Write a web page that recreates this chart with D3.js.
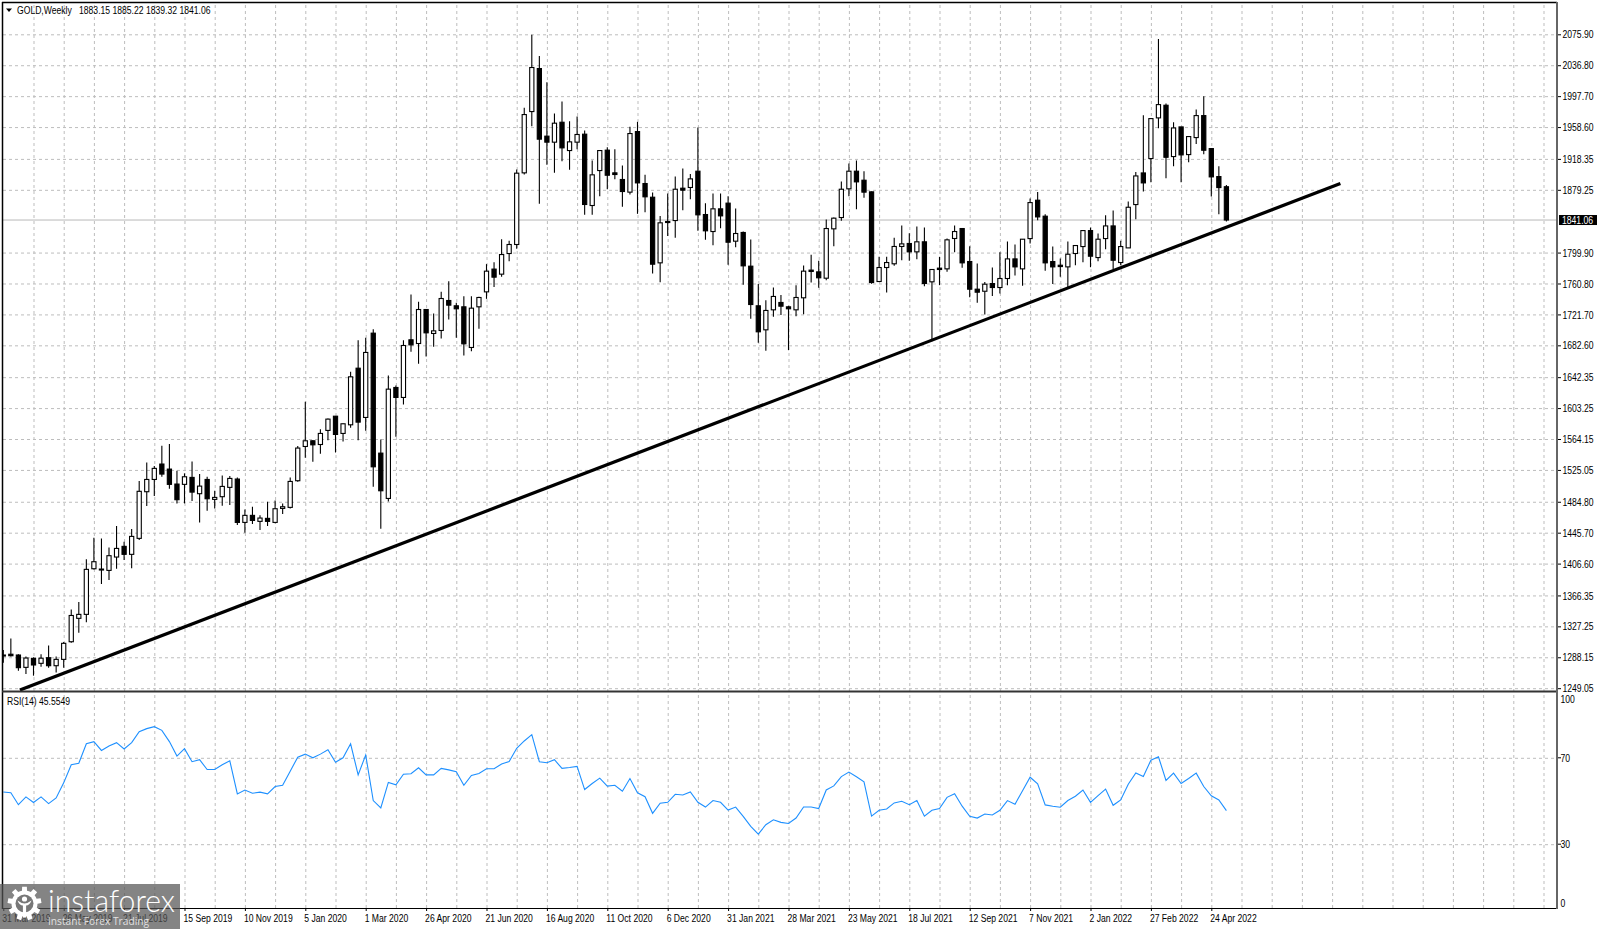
<!DOCTYPE html>
<html><head><meta charset="utf-8">
<script src="https://cdn.jsdelivr.net/npm/d3@7"></script>
<style>html,body{margin:0;padding:0;background:#fff}svg{display:block}text{font-family:"Liberation Sans",Arial,sans-serif;font-size:10px;fill:#000}</style>
</head><body>
<svg id="c" width="1600" height="929"></svg>
<script>
const priceTicks=[2075.90,2036.80,1997.70,1958.60,1918.35,1879.25,1799.90,1760.80,1721.70,1682.60,1642.35,1603.25,1564.15,1525.05,1484.80,1445.70,1406.60,1366.35,1327.25,1288.15,1249.05];
const timeLabels=["31 Mar 2019","26 May 2019","21 Jul 2019","15 Sep 2019","10 Nov 2019","5 Jan 2020","1 Mar 2020","26 Apr 2020","21 Jun 2020","16 Aug 2020","11 Oct 2020","6 Dec 2020","31 Jan 2021","28 Mar 2021","23 May 2021","18 Jul 2021","12 Sep 2021","7 Nov 2021","2 Jan 2022","27 Feb 2022","24 Apr 2022"];
const rsiTicks=[100,70,30,0];
const lastPrice=1841.06;
const trendBars=[2.2,177.1], trendPrices=[1246.7,1887.3];
const opens=[1289.7,1292,1291,1275.4,1286.8,1280.5,1287.6,1277.5,1285.5,1307.8,
1337.4,1342.4,1400.1,1399.7,1398,1414.9,1428.4,1418.3,1438.5,1497.5,
1513,1532.5,1526.1,1507.2,1506.8,1515.6,1495,1513,1487.8,1491.2,
1503,1513.5,1458.7,1467.6,1460,1463.8,1458.7,1476.4,1477.7,1511.4,
1554.7,1561.9,1557.2,1575,1593,1571.2,1582.1,1653.7,1591.4,1698,
1546.3,1489,1629.3,1616.7,1689.6,1684.9,1727.9,1697.6,1701.4,1739.3,
1732.6,1731.3,1679.9,1731.3,1750.2,1779,1772.6,1798.7,1810.1,1900.7,
1978.2,2032.6,1947.1,1939.5,1964.7,1928.9,1939.5,1949.6,1859.4,1903.6,
1929.4,1900.7,1892.3,1876.3,1952.9,1887.2,1869.9,1786.9,1839.2,1840.4,
1881.3,1882.2,1902.8,1848,1826.5,1855.2,1862.4,1814.3,1825.3,1782.7,
1732.6,1702.2,1727.5,1736.8,1731.3,1727.5,1742.7,1777.7,1775.5,1767.5,
1829.9,1844.2,1880.5,1902.8,1891.4,1876.7,1763.3,1781,1785.7,1807.6,
1811.4,1800.8,1813.5,1762.9,1780.2,1779.3,1817.7,1830.3,1788.6,1753.6,
1751,1760.7,1755.7,1767.1,1791.9,1779.3,1817.6,1866.1,1845.9,1788.5,
1783.9,1781.8,1798.7,1807.5,1827.7,1793.6,1817.6,1833.6,1787.3,1805.8,
1860.6,1900.6,1918.8,1970.2,1986.2,1921.3,1958.8,1923.8,1945.3,1973.1,
1931.4,1896,1883.15];
const highs=[1297.3,1312,1292,1289,1288,1292,1303.2,1289,1307.4,1348.7,
1358,1412,1439.3,1438.5,1427.1,1454,1434.3,1450.3,1511,1534.6,
1530,1555.6,1557.7,1524,1520.7,1535.8,1519.8,1516.4,1498.7,1518.1,
1517.3,1515.6,1475,1478.5,1467.6,1484.8,1486.5,1482.7,1515.6,1555.2,
1611.2,1562.7,1576.6,1590.1,1593,1583.8,1649.1,1689.1,1692.1,1703,
1563.6,1644.5,1631.8,1689.1,1746.9,1737.6,1727.9,1722.9,1750.3,1763.7,
1736.3,1744.8,1744.8,1743.9,1785.3,1787.8,1816.8,1814.7,1904.9,1982.9,
2075.2,2048.6,2015.3,1975.7,1990.9,1966,1971.9,1954.2,1916.3,1928.9,
1933.1,1930.6,1910,1958.9,1965.2,1898.2,1875.8,1846.3,1874.6,1896,
1906.2,1899.4,1958,1862.4,1874.6,1874.6,1871.2,1855.6,1826.5,1816.4,
1760,1739.7,1755.7,1746.1,1732.6,1758.7,1783.6,1797,1789.5,1841.7,
1844.2,1889.7,1912.5,1916.3,1902.8,1877.1,1794.5,1794.5,1818.5,1834.1,
1824.4,1832.9,1831.6,1778.5,1794.5,1817.7,1834.1,1830.3,1808,1786.1,
1762.8,1781,1800.3,1813.8,1810,1817.2,1868.2,1876.6,1848.4,1807.5,
1792.3,1813.8,1809.6,1827.7,1831.5,1824,1847.1,1853,1814.7,1864.4,
1901.9,1973.5,1969.3,2070,1988.3,1964.7,1958.8,1946.6,1980.7,1997.6,
1931.8,1909.1,1885.22];
const lows=[1281.3,1289,1271.2,1267,1264.9,1276.2,1275,1269,1275,1306.6,
1319.2,1332.3,1399.3,1380.8,1385.8,1400.1,1411,1400.6,1436.4,1479.4,
1492,1516.4,1501.3,1482.7,1482.7,1485.7,1458.7,1473.5,1476.4,1479.8,
1480.6,1455.3,1445.7,1456.6,1449,1454.1,1457.5,1469.2,1476.4,1510.1,
1540.4,1535.3,1545.4,1562.7,1547.1,1561,1578.3,1562.7,1574.5,1503.7,
1450.6,1485.2,1566.9,1607.8,1674.4,1659.2,1668.5,1680.7,1691.3,1715.3,
1692.1,1669.8,1675.2,1703.5,1741.4,1756.5,1769.2,1789,1804.6,1898.6,
1959.7,1861.5,1910.8,1900.7,1915.4,1904.5,1930.6,1847.6,1847.6,1871.2,
1880,1892.7,1857.7,1873.3,1848.9,1851,1773.4,1762.5,1821,1818.5,
1853.5,1867.4,1827.4,1816,1809.3,1830.7,1784.4,1806.7,1759.1,1716.1,
1685.8,1675.7,1718.7,1720.8,1676.5,1719.5,1722,1762.1,1755.3,1765,
1808,1840,1871.2,1854.8,1869.1,1760.4,1762.9,1749.4,1783.1,1790.3,
1789.5,1791.6,1757.4,1687.9,1758.7,1775.5,1800.4,1780.6,1743.5,1736.4,
1721.5,1745.1,1748.1,1758.6,1770.8,1757.8,1811.3,1840.8,1776.8,1760.3,
1769.2,1754.4,1783.9,1787.7,1781.4,1789,1804.1,1778.9,1783.9,1805.8,
1842.1,1877,1888.8,1957.1,1893.9,1909.1,1888.8,1914.1,1937.3,1924.2,
1870.7,1848.4,1839.32];
const closes=[1291,1290.1,1275,1287.2,1278.4,1287,1277.5,1285.5,1305.8,1341,
1342.4,1399.3,1409,1398.5,1416.6,1425.8,1418.3,1441,1498,1513,
1527,1519.8,1506.8,1487.4,1516.4,1497,1504.6,1488.6,1490.3,1504.2,
1514.3,1458.7,1467.6,1461.2,1464.2,1460,1476,1478.5,1510.5,1552.7,
1561.9,1556.8,1571.2,1589.3,1569.9,1583.4,1642.8,1585.5,1673.6,1529,
1498.7,1627.2,1616.7,1682.4,1683.2,1727.9,1698.4,1700.9,1741.8,1733.4,
1728.8,1684.5,1729.6,1743.1,1776.4,1768.8,1797.4,1810.1,1900.3,1974.4,
2033.9,1943.3,1939.5,1963.5,1932.3,1939.9,1949.2,1860.7,1898.2,1928.9,
1897.7,1898.6,1877.1,1950.4,1888,1870.4,1785.2,1837.5,1837.9,1880,
1878.8,1893.1,1847.6,1827.4,1855.2,1846.3,1813,1824,1783.1,1734.2,
1699.7,1726.7,1744.4,1732.1,1728.8,1743.1,1776.4,1776,1768,1830.3,
1843.4,1880,1902.8,1889.3,1876.3,1762,1781,1787.3,1807.6,1810.9,
1800.8,1813.5,1760.8,1778.5,1778.5,1816,1826.5,1786.9,1753.6,1749.8,
1759.9,1755.7,1767.1,1791.9,1781.8,1816.8,1863.1,1845,1786.9,1781.8,
1782.2,1797.8,1808.8,1827.7,1795.3,1816.8,1833.6,1790.2,1807.5,1857.2,
1896.8,1888,1969.3,1987,1920.4,1957.5,1923.4,1946.6,1973.1,1929.3,
1895.6,1882.1,1841.06];
const rsi=[54.2,53.8,48.3,51.9,49.3,51.9,48.8,51.4,58.4,66.8,
67.5,76.5,77.5,73.4,75.5,77,74.1,77,82.1,83.5,
84.4,82.7,77.5,70.8,74.2,68.2,69.1,64.6,64.6,66.8,
68.6,53.3,55.1,53.6,54.1,53.3,56.7,57.3,63.8,70.3,
71.7,70,71.7,73.7,67.9,70,76.5,62.1,71.3,50.2,
46.8,58.6,57.5,62.4,62.6,65.4,62.1,62.1,65.1,64.4,
63.5,57.3,61.8,62.7,64.9,64.9,67.1,68.3,74.4,77.8,
80.7,68.2,67.7,69.1,65.1,65.5,66,55.3,58.1,60.6,
56.9,57.3,54.5,60.4,53.8,52,44.3,49,49.4,53.1,
52.8,54.2,49.4,47.2,50.2,49.4,45.8,47.2,42.9,38.3,
34.7,39,41.3,40.1,39.6,42.1,47.2,47.2,46.5,55.1,
57,61.3,63.4,61.2,58.9,43,45.7,46.3,49.1,49.9,
48.3,50.2,43,45.7,46.5,51.7,53.4,47.6,42.9,42.1,
44,43.5,45.7,50.2,48.5,54.7,61,57.9,48.2,47.6,
47.1,50.2,52.2,55.1,49.4,52.5,55.5,48,50.5,57.8,
63,61.3,68.9,70.5,59.5,62.9,58.1,60.4,62.9,56.7,
52.4,50.5,45.5549];

const svg=d3.select("#c");
const L=3,R=1557;
const x=d3.scaleLinear().domain([0,162]).range([3.3,1226.4]);
const y=d3.scaleLinear().domain([1249.05,2075.9]).range([688.2,34.3]);
const yr=d3.scaleLinear().domain([0,100]).range([909,693]);
const gridCol="#bdbdbd";
const defs=svg.append("defs");
defs.append("clipPath").attr("id","mainClip").append("rect").attr("x",L).attr("y",3).attr("width",R-L).attr("height",688);
defs.append("clipPath").attr("id","rsiClip").append("rect").attr("x",L).attr("y",693).attr("width",R-L).attr("height",215);

// grids drawn with D3 axes
const gridBars=d3.range(4,208,4);
const vg=svg.append("g").attr("transform","translate(0,908)")
  .call(d3.axisBottom(x).tickValues(gridBars).tickSize(-905).tickFormat(""));
vg.select(".domain").remove();
vg.selectAll("line").attr("stroke",gridCol).attr("stroke-dasharray","3,3");
const hg=svg.append("g").attr("transform",`translate(${L},0)`)
  .call(d3.axisRight(y).tickValues(priceTicks).tickSize(R-L).tickFormat(""));
hg.select(".domain").remove();
hg.selectAll("line").attr("stroke",gridCol).attr("stroke-dasharray","3,3");
const hr=svg.append("g").attr("transform",`translate(${L},0)`)
  .call(d3.axisRight(yr).tickValues([70,30]).tickSize(R-L).tickFormat(""));
hr.select(".domain").remove();
hr.selectAll("line").attr("stroke",gridCol).attr("stroke-dasharray","3,3");

// last price line
svg.append("line").attr("x1",L).attr("x2",R).attr("y1",y(lastPrice)).attr("y2",y(lastPrice)).attr("stroke","#b8b8b8").attr("stroke-width",1);

// candles
const main=svg.append("g").attr("clip-path","url(#mainClip)");
const idx=d3.range(opens.length);
main.selectAll("line.w").data(idx).join("line").attr("class","w")
  .attr("x1",i=>x(i)).attr("x2",i=>x(i)).attr("y1",i=>y(highs[i])).attr("y2",i=>y(lows[i]))
  .attr("stroke","#000").attr("stroke-width",1.1);
main.selectAll("rect.b").data(idx).join("rect").attr("class","b")
  .attr("x",i=>x(i)-2.1).attr("width",4.2)
  .attr("y",i=>y(Math.max(opens[i],closes[i])))
  .attr("height",i=>Math.max(0.8,Math.abs(y(opens[i])-y(closes[i]))))
  .attr("fill",i=>closes[i]>=opens[i]?"#fff":"#000")
  .attr("stroke","#000").attr("stroke-width",1.1);
// trend line
main.append("path").datum(trendBars.map((b,i)=>[b,trendPrices[i]]))
  .attr("d",d3.line().x(d=>x(d[0])).y(d=>y(d[1])))
  .attr("stroke","#000").attr("stroke-width",3.2).attr("fill","none");

// RSI
svg.append("path").attr("clip-path","url(#rsiClip)").datum(rsi)
  .attr("d",d3.line().x((d,i)=>x(i)).y(d=>yr(d)))
  .attr("stroke","#1E90FF").attr("stroke-width",1.1).attr("fill","none");

// frame
const frame=svg.append("g").attr("fill","none");
frame.append("line").attr("x1",2.5).attr("x2",2.5).attr("y1",2).attr("y2",909).attr("stroke","#000").attr("stroke-width",1.5);
frame.append("line").attr("x1",2).attr("x2",1557).attr("y1",2.5).attr("y2",2.5).attr("stroke","#000").attr("stroke-width",1.5);
frame.append("line").attr("x1",2).attr("x2",1557).attr("y1",691.5).attr("y2",691.5).attr("stroke","#333").attr("stroke-width",2);
frame.append("line").attr("x1",2).attr("x2",1557).attr("y1",908.5).attr("y2",908.5).attr("stroke","#000").attr("stroke-width",1);
frame.append("line").attr("x1",1557).attr("x2",1557).attr("y1",2).attr("y2",909).attr("stroke","#666").attr("stroke-width",2);

// price axis
const pa=svg.append("g").attr("transform","translate(1558,0)")
  .call(d3.axisRight(y).tickValues(priceTicks).tickSize(3).tickPadding(1.5).tickFormat(d3.format(".2f")));
pa.select(".domain").remove();
pa.selectAll("line").attr("stroke","#000");
pa.selectAll("text").attr("class","sq").attr("dy","0.36em").style("font-family",'"Liberation Sans",Arial,sans-serif').style("font-size","10px");

// rsi axis
const labelY={100:699,70:758,30:844,0:903};
const ra=svg.append("g").attr("transform","translate(1558,0)")
  .call(d3.axisRight(yr).tickValues(rsiTicks).tickSize(0).tickPadding(2.5));
ra.select(".domain").remove();
ra.selectAll("line").remove();
ra.selectAll(".tick").attr("transform",d=>`translate(0,${labelY[d]})`);
ra.selectAll("text").attr("class","sq").attr("dy","0.36em").style("font-family",'"Liberation Sans",Arial,sans-serif').style("font-size","10px");
svg.append("g").selectAll("line").data([70,30]).join("line")
  .attr("x1",1558).attr("x2",1561).attr("y1",d=>yr(d)).attr("y2",d=>yr(d)).attr("stroke","#000");

// time axis
const timeBars=timeLabels.map((_,i)=>i*8);
const ta=svg.append("g").attr("transform","translate(0,908)")
  .call(d3.axisBottom(x).tickValues(timeBars).tickSize(3).tickPadding(0).tickFormat((d,i)=>timeLabels[i]));
ta.select(".domain").remove();
ta.selectAll("line").attr("stroke","#000");
ta.selectAll("text").attr("class","sq").attr("text-anchor","start").attr("x",-1.5).attr("y",14).attr("dy",0)
  .style("font-family",'"Liberation Sans",Arial,sans-serif').style("font-size","10px").style("fill","#000");

// last price tag
svg.append("rect").attr("x",1559).attr("y",y(lastPrice)-5).attr("width",38).attr("height",10).attr("fill","#000");
svg.append("text").attr("class","sq").attr("x",1562).attr("y",y(lastPrice)).attr("dy","0.36em").style("fill","#fff").text(d3.format(".2f")(lastPrice));

// titles
svg.append("path").attr("d","M6,8.5L12,8.5L9,12Z").attr("fill","#000");
svg.append("text").attr("class","sq").attr("x",17).attr("y",13.5).text("GOLD,Weekly");
svg.append("text").attr("class","sq").attr("x",79).attr("y",13.5).text("1883.15 1885.22 1839.32 1841.06");
svg.append("text").attr("class","sq").attr("x",7).attr("y",705).text("RSI(14) 45.5549");

// narrow the glyphs to the squeezed look of the reference
svg.selectAll("text.sq").style("stroke","currentColor").style("stroke-width",0).each(function(){
  const w=this.getComputedTextLength();
  d3.select(this).attr("textLength",w*0.86).attr("lengthAdjust","spacingAndGlyphs");
});

// watermark
const wm=svg.append("g");
wm.append("rect").attr("x",0).attr("y",884).attr("width",180).attr("height",45).attr("fill","rgba(85,85,85,0.72)");
const cx=24.5,cy=903.5,teeth=9,gp=[];
d3.range(teeth).forEach(k=>{
  const a=k/teeth*2*Math.PI,s=2*Math.PI/teeth;
  [[-.5,13],[-.28,13],[-.2,17],[.2,17],[.28,13],[.5,13]].forEach(([f,r])=>{
    gp.push([cx+r*Math.sin(a+f*s),cy-r*Math.cos(a+f*s)]);
  });
});
wm.append("path").attr("d",d3.line()(gp)+"Z").attr("fill","#fff");
wm.append("circle").attr("cx",cx).attr("cy",cy).attr("r",9).attr("fill","#777");
wm.append("circle").attr("cx",cx).attr("cy",cy-4.5).attr("r",2.6).attr("fill","#fff");
wm.append("path").attr("d",`M${cx-7},${cy-3}Q${cx-5},${cy+2} ${cx-1.6},${cy+2}L${cx-1.6},${cy+14}L${cx+1.6},${cy+14}L${cx+1.6},${cy+2}Q${cx+5},${cy+2} ${cx+7},${cy-3}Q${cx+3},${cy} ${cx},${cy}Q${cx-3},${cy} ${cx-7},${cy-3}Z`).attr("fill","#fff");
wm.append("text").attr("x",48).attr("y",912).attr("textLength",127).attr("lengthAdjust","spacingAndGlyphs")
  .style("font-family","Lato,'Open Sans',sans-serif").style("font-weight",300).style("font-size","31px").style("fill","#fff").text("instaforex");
wm.append("text").attr("x",48).attr("y",924.5).attr("textLength",101).attr("lengthAdjust","spacingAndGlyphs")
  .style("font-family","'Open Sans',sans-serif").style("font-size","11px").style("fill","rgba(255,255,255,.78)").text("Instant Forex Trading");
</script>
</body></html>
